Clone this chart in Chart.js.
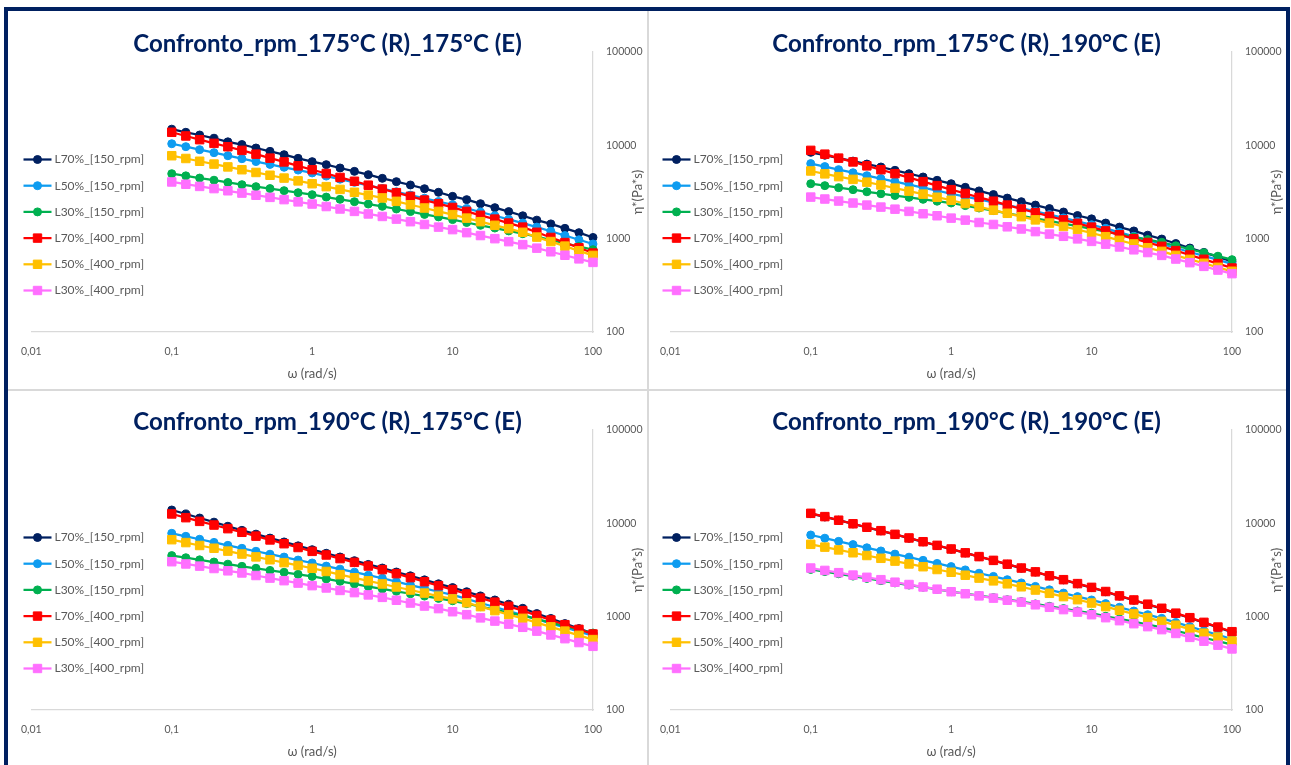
<!DOCTYPE html>
<html lang="it">
<head>
  <meta charset="UTF-8" />
  <title>Confronto rpm</title>
  <script src="https://cdn.jsdelivr.net/npm/chart.js"></script>
  <style>
    body {
      margin: 0;
      background: #fff;
      font-family: Lato, sans-serif;
    }
    #frame {
      position: absolute;
      left: 4px;
      top: 7px;
      width: 1286px;
      height: 800px;
      border: 4px solid #002060;
      box-sizing: border-box;
    }
    .panel {
      position: absolute;
      width: 639px;
      height: 378px;
    }
    .sep-v {
      position: absolute;
      left: 639px;
      top: 0;
      width: 1.5px;
      height: 100%;
      background: #d9d9d9;
    }
    .sep-h {
      position: absolute;
      left: 0;
      top: 378px;
      width: 100%;
      height: 1.5px;
      background: #d9d9d9;
    }
  </style>
</head>
<body>
  <div id="frame">
    <div class="panel" style="left:0;top:0"><canvas id="c1" width="639" height="378"></canvas></div>
    <div class="panel" style="left:639px;top:0"><canvas id="c2" width="639" height="378"></canvas></div>
    <div class="panel" style="left:0;top:378px"><canvas id="c3" width="639" height="378"></canvas></div>
    <div class="panel" style="left:639px;top:378px"><canvas id="c4" width="639" height="378"></canvas></div>
    <div class="sep-v"></div>
    <div class="sep-h"></div>
  </div>
  <script>
    // angular frequency of the sweep (rad/s)
    const omega = [0.1, 0.126, 0.158, 0.2, 0.251, 0.316, 0.398, 0.501, 0.631, 0.794,
      1, 1.26, 1.58, 2, 2.51, 3.16, 3.98, 5.01, 6.31, 7.94,
      10, 12.6, 15.8, 20, 25.1, 31.6, 39.8, 50.1, 63.1, 79.4, 100];

    const xTicks = [0.01, 0.1, 1, 10, 100];
    const yTicks = [100, 1000, 10000, 100000];

    const seriesLabels = ["L70%_[150_rpm]", "L50%_[150_rpm]", "L30%_[150_rpm]",
      "L70%_[400_rpm]", "L50%_[400_rpm]", "L30%_[400_rpm]"];
    const seriesColors = ["#002060", "#0E9CF0", "#00B050", "#FF0000", "#FFC000", "#FF6FFF"];

    const panelTitles = [
      "Confronto_rpm_175°C (R)_175°C (E)",
      "Confronto_rpm_175°C (R)_190°C (E)",
      "Confronto_rpm_190°C (R)_175°C (E)",
      "Confronto_rpm_190°C (R)_190°C (E)"
    ];

    // complex viscosity eta* (Pa*s) - 175°C (R) / 175°C (E)
    const a_L70_150 = [14900, 13800, 12900, 11900, 10900, 10200, 9360, 8620, 7940, 7260, 6690, 6210, 5720, 5260, 4850, 4430, 4080, 3760, 3430, 3140, 2840, 2620, 2370, 2150, 1950, 1760, 1580, 1440, 1290, 1160, 1030];
    const a_L50_150 = [10400, 9680, 8990, 8340, 7740, 7190, 6700, 6250, 5820, 5430, 5060, 4680, 4340, 4010, 3720, 3440, 3180, 2930, 2710, 2500, 2310, 2110, 1930, 1760, 1610, 1470, 1330, 1200, 1080, 973, 877];
    const a_L30_150 = [4970, 4710, 4460, 4230, 4000, 3790, 3610, 3440, 3270, 3110, 2960, 2790, 2640, 2490, 2350, 2220, 2080, 1950, 1820, 1710, 1600, 1490, 1390, 1300, 1210, 1130, 1050, 966, 893, 824, 762];
    const a_L70_400 = [13800, 12600, 11500, 10500, 9660, 8830, 8040, 7290, 6640, 6030, 5480, 4990, 4530, 4120, 3740, 3400, 3110, 2840, 2590, 2370, 2160, 1960, 1780, 1620, 1470, 1330, 1170, 1030, 908, 798, 701];
    const a_L50_400 = [7740, 7230, 6750, 6300, 5870, 5480, 5120, 4780, 4460, 4160, 3880, 3610, 3370, 3140, 2930, 2730, 2510, 2310, 2130, 1960, 1810, 1660, 1520, 1390, 1280, 1170, 1040, 931, 832, 741, 662];
    const a_L30_400 = [4050, 3830, 3630, 3440, 3260, 3080, 2920, 2770, 2620, 2480, 2350, 2210, 2080, 1960, 1840, 1730, 1620, 1520, 1420, 1330, 1250, 1160, 1080, 1000, 929, 863, 791, 724, 664, 608, 557];

    // 175°C (R) / 190°C (E)
    const b_L70_150 = [8410, 7830, 7280, 6780, 6300, 5860, 5400, 4970, 4580, 4220, 3880, 3550, 3250, 2970, 2720, 2490, 2290, 2100, 1930, 1770, 1630, 1470, 1330, 1210, 1090, 991, 887, 794, 713, 638, 571];
    const b_L50_150 = [6370, 5920, 5490, 5090, 4730, 4400, 4080, 3790, 3520, 3270, 3030, 2820, 2640, 2450, 2290, 2130, 1960, 1810, 1670, 1530, 1410, 1290, 1170, 1060, 964, 877, 794, 719, 653, 592, 536];
    const b_L30_150 = [3880, 3700, 3520, 3350, 3180, 3030, 2900, 2770, 2640, 2520, 2410, 2260, 2130, 2000, 1870, 1760, 1650, 1550, 1450, 1360, 1270, 1190, 1110, 1040, 977, 914, 839, 771, 706, 649, 596];
    const b_L70_400 = [8830, 8040, 7290, 6640, 6030, 5480, 4970, 4500, 4080, 3700, 3350, 3050, 2770, 2520, 2290, 2080, 1900, 1740, 1590, 1460, 1330, 1210, 1100, 1000, 910, 828, 745, 668, 601, 540, 485];
    const b_L50_400 = [5310, 4950, 4620, 4320, 4030, 3760, 3480, 3230, 3000, 2780, 2580, 2380, 2190, 2020, 1870, 1720, 1590, 1470, 1350, 1250, 1150, 1050, 959, 877, 800, 731, 662, 600, 545, 493, 447];
    const b_L30_400 = [2790, 2660, 2530, 2410, 2290, 2180, 2070, 1960, 1850, 1760, 1660, 1580, 1490, 1420, 1340, 1270, 1190, 1120, 1060, 995, 935, 873, 815, 760, 710, 662, 605, 553, 505, 461, 422];

    // 190°C (R) / 175°C (E)
    const c_L70_150 = [13900, 12600, 11400, 10300, 9310, 8410, 7660, 6950, 6320, 5740, 5220, 4780, 4360, 3980, 3630, 3320, 3010, 2740, 2480, 2250, 2050, 1850, 1670, 1510, 1360, 1230, 1080, 957, 843, 745, 658];
    const c_L50_150 = [7820, 7260, 6750, 6250, 5810, 5400, 5020, 4670, 4350, 4040, 3760, 3480, 3230, 3000, 2780, 2580, 2370, 2180, 2010, 1850, 1710, 1550, 1400, 1270, 1150, 1040, 942, 849, 767, 692, 625];
    const c_L30_150 = [4510, 4280, 4060, 3850, 3650, 3460, 3300, 3130, 2990, 2840, 2700, 2540, 2390, 2240, 2100, 1980, 1870, 1760, 1660, 1570, 1480, 1380, 1280, 1190, 1100, 1030, 942, 865, 793, 728, 668];
    const c_L70_400 = [12600, 11500, 10500, 9590, 8770, 8020, 7290, 6640, 6050, 5510, 5010, 4580, 4190, 3820, 3490, 3190, 2890, 2620, 2370, 2150, 1950, 1750, 1580, 1430, 1290, 1160, 1030, 920, 820, 731, 652];
    const c_L50_400 = [6680, 6220, 5790, 5410, 5040, 4690, 4370, 4070, 3790, 3540, 3300, 3050, 2820, 2610, 2420, 2240, 2080, 1930, 1790, 1660, 1550, 1410, 1280, 1160, 1050, 959, 863, 778, 700, 631, 568];
    const c_L30_400 = [3880, 3670, 3480, 3280, 3100, 2940, 2760, 2590, 2430, 2290, 2150, 2030, 1910, 1810, 1710, 1610, 1500, 1400, 1300, 1220, 1130, 1050, 971, 897, 832, 769, 700, 637, 581, 528, 481];

    // 190°C (R) / 190°C (E)
    const d_L70_150 = [12700, 11700, 10800, 9860, 9020, 8300, 7600, 6930, 6330, 5790, 5290, 4820, 4390, 4000, 3640, 3310, 3010, 2730, 2480, 2250, 2050, 1850, 1660, 1500, 1350, 1220, 1080, 968, 862, 768, 684];
    const d_L50_150 = [7500, 6930, 6410, 5920, 5470, 5060, 4680, 4340, 4010, 3720, 3440, 3170, 2920, 2700, 2490, 2300, 2110, 1940, 1790, 1640, 1510, 1380, 1260, 1150, 1050, 959, 867, 783, 706, 638, 577];
    const d_L30_150 = [3210, 3040, 2880, 2720, 2570, 2430, 2300, 2180, 2070, 1960, 1850, 1770, 1680, 1600, 1520, 1450, 1370, 1290, 1220, 1150, 1090, 1010, 946, 883, 824, 769, 706, 649, 594, 546, 501];
    const d_L70_400 = [12800, 11800, 10800, 9890, 9080, 8340, 7620, 6970, 6350, 5810, 5310, 4830, 4400, 4010, 3650, 3320, 3020, 2740, 2490, 2260, 2060, 1860, 1670, 1510, 1360, 1230, 1090, 975, 869, 774, 690];
    const d_L50_400 = [5960, 5560, 5190, 4840, 4520, 4220, 3940, 3670, 3430, 3200, 2990, 2780, 2590, 2420, 2250, 2090, 1930, 1780, 1640, 1520, 1400, 1280, 1170, 1070, 975, 891, 809, 735, 665, 604, 548];
    const d_L30_400 = [3320, 3130, 2960, 2790, 2640, 2490, 2340, 2210, 2080, 1970, 1850, 1760, 1670, 1580, 1500, 1430, 1340, 1260, 1190, 1120, 1050, 975, 906, 841, 782, 726, 661, 600, 546, 495, 451];

    const panelSeries = [
      [a_L70_150, a_L50_150, a_L30_150, a_L70_400, a_L50_400, a_L30_400],
      [b_L70_150, b_L50_150, b_L30_150, b_L70_400, b_L50_400, b_L30_400],
      [c_L70_150, c_L50_150, c_L30_150, c_L70_400, c_L50_400, c_L30_400],
      [d_L70_150, d_L50_150, d_L30_150, d_L70_400, d_L50_400, d_L30_400]
    ];

    Chart.defaults.font.family = "Lato, sans-serif";
    Chart.defaults.color = "#595959";

    function drawMarker(ctx, style, x, y, color) {
      ctx.fillStyle = color;
      ctx.strokeStyle = color;
      ctx.lineWidth = 1;
      ctx.beginPath();
      if (style === "rect") {
        ctx.rect(x - 4.2, y - 4.2, 8.4, 8.4);
      } else {
        ctx.arc(x, y, 4, 0, Math.PI * 2);
      }
      ctx.fill();
      ctx.stroke();
    }

    // title centred on the whole panel, legend inside the plot on the left,
    // and the y title turned to read upwards next to the tick labels
    const panelDecor = {
      id: "panelDecor",
      afterDraw(chart, args, opts) {
        const ctx = chart.ctx;
        const area = chart.chartArea;
        ctx.save();

        ctx.font = "bold 24px Lato";
        ctx.fillStyle = "#002060";
        ctx.textAlign = "center";
        ctx.textBaseline = "middle";
        ctx.fillText(opts.title, chart.width / 2, 33);

        ctx.font = "12px Lato";
        ctx.textAlign = "left";
        chart.data.datasets.forEach((ds, i) => {
          const y = 148.5 + i * 26.2;
          ctx.strokeStyle = ds.borderColor;
          ctx.lineWidth = 2.25;
          ctx.beginPath();
          ctx.moveTo(15.5, y);
          ctx.lineTo(43.5, y);
          ctx.stroke();
          drawMarker(ctx, ds.pointStyle, 29.5, y, ds.borderColor);
          ctx.fillStyle = "#595959";
          ctx.fillText(ds.label, 46.5, y);
        });

        ctx.font = "13px Lato";
        ctx.translate(630, (area.top + area.bottom) / 2);
        ctx.rotate(-Math.PI / 2);
        ctx.textAlign = "center";
        ctx.fillStyle = "#595959";
        ctx.fillText("η*(Pa*s)", 0, 0);
        ctx.restore();
      }
    };

    function makeChart(canvasId, title, series) {
      const datasets = series.map((vals, i) => ({
        label: seriesLabels[i],
        data: vals.map((v, k) => ({ x: omega[k], y: v })),
        borderColor: seriesColors[i],
        backgroundColor: seriesColors[i],
        borderWidth: 2.25,
        pointStyle: i < 3 ? "circle" : "rect",
        pointRadius: i < 3 ? 4 : 6,
        pointBorderWidth: 1,
        pointHoverRadius: i < 3 ? 4 : 6,
        tension: 0,
        clip: false,
        order: series.length - 1 - i
      }));

      return new Chart(document.getElementById(canvasId), {
        type: "line",
        data: { datasets },
        options: {
          responsive: false,
          animation: false,
          layout: { padding: { left: 20, right: 0, top: 41, bottom: 0 } },
          plugins: {
            legend: { display: false },
            tooltip: { enabled: false },
            panelDecor: { title: title }
          },
          scales: {
            x: {
              type: "logarithmic",
              min: 0.01,
              max: 100,
              grid: { display: false, drawTicks: false },
              border: { display: true, color: "#d9d9d9", width: 1.25 },
              afterBuildTicks: s => { s.ticks = xTicks.map(v => ({ value: v })); },
              afterFit: s => { s.height = 57; },
              ticks: {
                font: { size: 10.5 },
                padding: 13,
                maxRotation: 0,
                autoSkip: false,
                callback: v => String(v).replace(".", ",")
              },
              title: {
                display: true,
                text: "ω (rad/s)",
                font: { size: 13 },
                padding: { top: 0, bottom: 7 }
              }
            },
            y: {
              type: "logarithmic",
              position: "right",
              min: 100,
              max: 100000,
              grid: { display: false, drawTicks: false },
              border: { display: true, color: "#d9d9d9", width: 1.25 },
              afterBuildTicks: s => { s.ticks = yTicks.map(v => ({ value: v })); },
              afterFit: s => { s.width = 54; },
              ticks: {
                font: { size: 10.5 },
                padding: 13,
                callback: v => String(v)
              }
            }
          }
        },
        plugins: [panelDecor]
      });
    }

    ["c1", "c2", "c3", "c4"].forEach((id, p) => makeChart(id, panelTitles[p], panelSeries[p]));
  </script>
</body>
</html>
